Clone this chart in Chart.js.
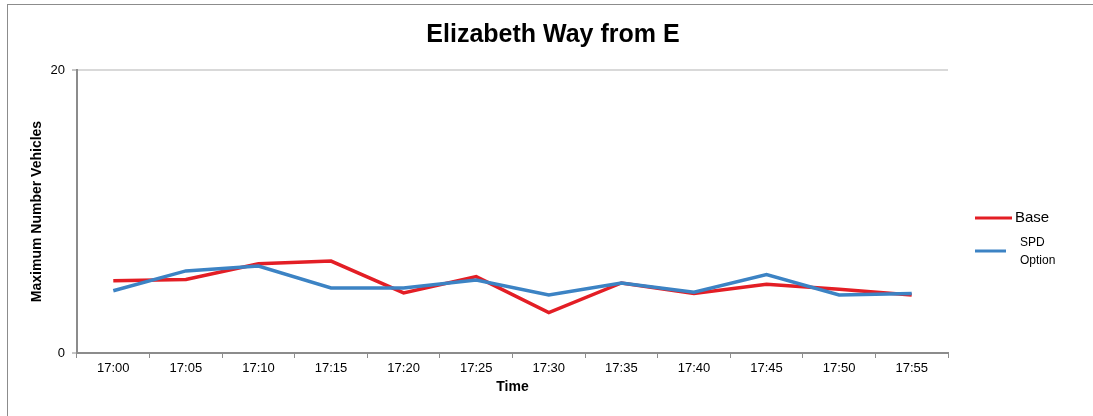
<!DOCTYPE html>
<html>
<head>
<meta charset="utf-8">
<script src="https://cdn.jsdelivr.net/npm/chart.js@4.4.1/dist/chart.umd.min.js"></script>
<style>
  html, body { margin: 0; padding: 0; background: #fff; overflow: hidden; }
  #wrap { position: relative; width: 1093px; height: 416px; }
  #frame { position: absolute; left: 7px; top: 4px; width: 1200px; height: 500px;
           border-left: 1px solid #8c8c8c; border-top: 1px solid #8c8c8c; }
  #myChart { position: absolute; left: 0; top: 0; }
</style>
</head>
<body>
<div id="wrap">
  <div id="frame"></div>
  <canvas id="myChart" width="1093" height="416"></canvas>
</div>
<script>
var times = ["17:00", "17:05", "17:10", "17:15", "17:20", "17:25", "17:30", "17:35", "17:40", "17:45", "17:50", "17:55"];
var baseVals = [5.1, 5.2, 6.3, 6.5, 4.25, 5.4, 2.85, 4.95, 4.2, 4.85, 4.5, 4.1];
var spdVals = [4.4, 5.8, 6.15, 4.6, 4.6, 5.15, 4.1, 4.95, 4.3, 5.55, 4.1, 4.2];
var yTicks = [0, 20];

var redLine = '#e31e25';
var blueLine = '#3c83c4';
var fontFam = '"Liberation Sans", Arial, sans-serif';

// title and the right-hand key, drawn straight onto the canvas
var extras = {
  id: 'extras',
  afterDraw: function(chart) {
    var ctx = chart.ctx;
    ctx.save();
    ctx.fillStyle = '#000';
    ctx.textBaseline = 'middle';
    ctx.textAlign = 'center';
    ctx.font = 'bold 25px ' + fontFam;
    ctx.fillText('Elizabeth Way from E', 553, 35);

    ctx.lineWidth = 3;
    ctx.strokeStyle = chart.data.datasets[1].borderColor;
    ctx.beginPath(); ctx.moveTo(975, 218); ctx.lineTo(1012, 218); ctx.stroke();
    ctx.strokeStyle = chart.data.datasets[0].borderColor;
    ctx.beginPath(); ctx.moveTo(975, 251); ctx.lineTo(1006, 251); ctx.stroke();

    ctx.textAlign = 'left';
    ctx.font = '15px ' + fontFam;
    ctx.fillText(chart.data.datasets[1].label, 1015, 218);
    ctx.font = '12px ' + fontFam;
    ctx.fillText('SPD', 1020, 243);
    ctx.fillText('Option', 1020, 261);
    ctx.restore();
  }
};

var ctx = document.getElementById('myChart').getContext('2d');
var chart = new Chart(ctx, {
  type: 'line',
  data: {
    labels: times,
    datasets: [{
      label: 'SPD Option',
      data: spdVals,
      borderColor: blueLine,
      borderWidth: 3.5,
      pointRadius: 0,
      tension: 0,
      order: 1
    }, {
      label: 'Base',
      data: baseVals,
      borderColor: redLine,
      borderWidth: 3.5,
      pointRadius: 0,
      tension: 0,
      order: 2
    }]
  },
  options: {
    responsive: false,
    animation: false,
    layout: { padding: { left: 0, right: 145, top: 70, bottom: 0 } },
    plugins: {
      legend: { display: false },
      title: { display: false },
      tooltip: { enabled: false }
    },
    scales: {
      x: {
        offset: true,
        afterFit: function(scale) { scale.height = 63; },
        border: { color: '#8c8c8c', width: 2 },
        grid: { drawOnChartArea: false, offset: true, tickLength: 5, tickColor: '#8c8c8c', tickWidth: 1 },
        ticks: { color: '#000', padding: 3, maxRotation: 0, font: { family: fontFam, size: 13 } },
        title: {
          display: true,
          text: 'Time',
          color: '#000',
          padding: { top: 4, bottom: 20 },
          font: { family: fontFam, size: 14, weight: 'bold' }
        }
      },
      y: {
        min: 0,
        max: 20,
        afterFit: function(scale) { scale.width = 77; },
        afterBuildTicks: function(scale) {
          scale.ticks = yTicks.map(function(v) { return { value: v }; });
        },
        border: { color: '#8c8c8c', width: 2 },
        grid: { color: '#d9d9d9', lineWidth: 2, tickLength: 5, tickColor: '#8c8c8c', tickWidth: 1 },
        ticks: { color: '#000', padding: 7, font: { family: fontFam, size: 13 } },
        title: {
          display: true,
          text: 'Maximum Number Vehicles',
          color: '#000',
          padding: { top: 29, bottom: 0 },
          font: { family: fontFam, size: 14, weight: 'bold' }
        }
      }
    }
  },
  plugins: [extras]
});
</script>
</body>
</html>
